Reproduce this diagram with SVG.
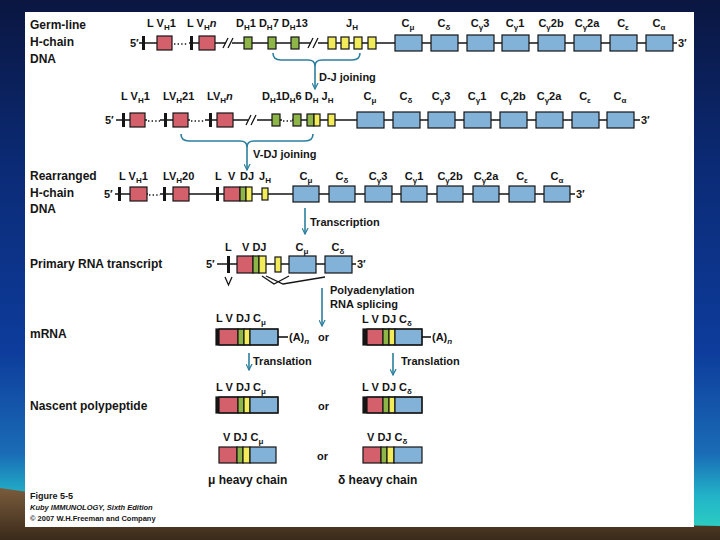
<svg xmlns="http://www.w3.org/2000/svg" width="720" height="540" viewBox="0 0 720 540">
<defs>
<linearGradient id="bg" x1="0" y1="0" x2="0" y2="1">
<stop offset="0" stop-color="#0a1640"/>
<stop offset="0.3" stop-color="#0b2a74"/>
<stop offset="0.65" stop-color="#0d3c9c"/>
<stop offset="0.84" stop-color="#1a6cb6"/>
<stop offset="0.92" stop-color="#22b4c8"/>
<stop offset="1" stop-color="#30d8c0"/>
</linearGradient>
<linearGradient id="br" x1="0" y1="0" x2="0" y2="1">
<stop offset="0" stop-color="#7a5c3c"/>
<stop offset="1" stop-color="#3a2a1a"/>
</linearGradient>
<marker id="ah" viewBox="0 0 8 8" refX="7" refY="4" markerWidth="7" markerHeight="7" orient="auto" markerUnits="userSpaceOnUse">
<path d="M0,0.5 L7,4 L0,7.5" fill="none" stroke="#2b7f9e" stroke-width="1.4"/>
</marker>
<style>
text{font-family:"Liberation Sans",Arial,sans-serif;font-weight:bold;fill:#151515}
.lab{font-size:12px}
.g{font-size:11px}
.s{font-size:8px}
.it{font-style:italic}
.r{fill:#d4606c;stroke:#151515;stroke-width:1.2}
.gr{fill:#8db548;stroke:#151515;stroke-width:1.2}
.y{fill:#f2ec5a;stroke:#151515;stroke-width:1.2}
.b{fill:#82b2d8;stroke:#151515;stroke-width:1.2}
.k{fill:#151515}
.ln{stroke:#151515;stroke-width:1.6;fill:none}
.dot{stroke:#151515;stroke-width:1.4;stroke-dasharray:1.4 2.2;fill:none}
.sl{stroke:#151515;stroke-width:1.3;fill:none}
.ar{stroke:#2b7f9e;stroke-width:1.6;fill:none}
.br{stroke:#2b7f9e;stroke-width:1.6;fill:none}
</style>
</defs>
<rect width="720" height="540" fill="url(#bg)"/>
<path d="M0,488 Q180,515 720,526 V540 H0 Z" fill="url(#br)"/>
<rect x="25" y="12" width="669" height="515" fill="#ffffff"/>

<!-- Row labels -->
<g id="row-labels">
<text class="lab" x="30" y="29">Germ-line</text>
<text class="lab" x="30" y="46">H-chain</text>
<text class="lab" x="30" y="63">DNA</text>
<text class="lab" x="30" y="180">Rearranged</text>
<text class="lab" x="30" y="197">H-chain</text>
<text class="lab" x="30" y="213">DNA</text>
<text class="lab" x="30" y="268">Primary RNA transcript</text>
<text class="lab" x="30" y="338">mRNA</text>
<text class="lab" x="30" y="410">Nascent polypeptide</text>
</g>

<!-- Germ-line DNA -->
<g id="germline">
<path class="ln" d="M139,43 H172 M189,43 H226 M232,43 H311 M318,43 H677"/>
<path class="dot" d="M174,44 H188"/>
<path class="sl" d="M223,48 L228,38 M228,48 L233,38 M308,48 L313,38 M313,48 L318,38"/>
<text class="g" x="130" y="47">5′</text>
<rect class="k" x="142" y="36" width="3" height="14"/>
<rect class="r" x="157" y="36" width="15" height="14"/>
<rect class="k" x="190" y="36" width="3" height="14"/>
<rect class="r" x="199" y="36" width="16" height="14"/>
<rect class="gr" x="244" y="37" width="8" height="12"/>
<rect class="gr" x="268" y="37" width="8" height="12"/>
<rect class="gr" x="291" y="37" width="8" height="12"/>
<rect class="y" x="328" y="37" width="8" height="12"/>
<rect class="y" x="341" y="37" width="8" height="12"/>
<rect class="y" x="354" y="37" width="8" height="12"/>
<rect class="y" x="368" y="37" width="8" height="12"/>
<rect class="b" x="395" y="35" width="27" height="16"/>
<rect class="b" x="431" y="35" width="27" height="16"/>
<rect class="b" x="467" y="35" width="27" height="16"/>
<rect class="b" x="502" y="35" width="27" height="16"/>
<rect class="b" x="538" y="35" width="27" height="16"/>
<rect class="b" x="574" y="35" width="27" height="16"/>
<rect class="b" x="610" y="35" width="27" height="16"/>
<rect class="b" x="646" y="35" width="27" height="16"/>
<text class="g" x="678" y="47">3′</text>
<text class="g" x="147" y="27">L V<tspan class="s" dy="3">H</tspan><tspan dy="-3">1</tspan></text>
<text class="g" x="187" y="27">L V<tspan class="s" dy="3">H</tspan><tspan dy="-3" font-style="italic">n</tspan></text>
<text class="g" x="236" y="27">D<tspan class="s" dy="3">H</tspan><tspan dy="-3">1 D</tspan><tspan class="s" dy="3">H</tspan><tspan dy="-3">7 D</tspan><tspan class="s" dy="3">H</tspan><tspan dy="-3">13</tspan></text>
<text class="g" x="346" y="27">J<tspan class="s" dy="3">H</tspan></text>
<text class="g" x="408" y="27" text-anchor="middle">C<tspan class="s" dy="3">μ</tspan></text>
<text class="g" x="444" y="27" text-anchor="middle">C<tspan class="s" dy="3">δ</tspan></text>
<text class="g" x="480" y="27" text-anchor="middle">C<tspan class="s" dy="3">γ</tspan><tspan dy="-3">3</tspan></text>
<text class="g" x="515" y="27" text-anchor="middle">C<tspan class="s" dy="3">γ</tspan><tspan dy="-3">1</tspan></text>
<text class="g" x="551" y="27" text-anchor="middle">C<tspan class="s" dy="3">γ</tspan><tspan dy="-3">2b</tspan></text>
<text class="g" x="587" y="27" text-anchor="middle">C<tspan class="s" dy="3">γ</tspan><tspan dy="-3">2a</tspan></text>
<text class="g" x="623" y="27" text-anchor="middle">C<tspan class="s" dy="3">ε</tspan></text>
<text class="g" x="659" y="27" text-anchor="middle">C<tspan class="s" dy="3">α</tspan></text>
</g>

<!-- After D-J joining -->
<g id="dj-joined">
<path class="ln" d="M116,120 H147 M160,120 H190 M205,120 H248 M257,120 H282 M292,120 H640"/>
<path class="dot" d="M148,121 H160 M191,121 H205 M283,121 H292"/>
<path class="sl" d="M246,125 L251,115 M251,125 L256,115"/>
<text class="g" x="105" y="124">5′</text>
<rect class="k" x="122" y="113" width="3" height="14"/>
<rect class="r" x="130" y="113" width="15" height="14"/>
<rect class="k" x="164" y="113" width="3" height="14"/>
<rect class="r" x="173" y="113" width="15" height="14"/>
<rect class="k" x="209" y="113" width="3" height="14"/>
<rect class="r" x="217" y="113" width="16" height="14"/>
<rect class="gr" x="272" y="114" width="8" height="12"/>
<rect class="gr" x="293" y="114" width="8" height="12"/>
<rect class="gr" x="307" y="114" width="7" height="12"/>
<rect class="y" x="314" y="114" width="6" height="12"/>
<rect class="y" x="328" y="114" width="7" height="12"/>
<rect class="b" x="357" y="112" width="27" height="16"/>
<rect class="b" x="393" y="112" width="27" height="16"/>
<rect class="b" x="428" y="112" width="27" height="16"/>
<rect class="b" x="464" y="112" width="27" height="16"/>
<rect class="b" x="500" y="112" width="27" height="16"/>
<rect class="b" x="536" y="112" width="27" height="16"/>
<rect class="b" x="572" y="112" width="27" height="16"/>
<rect class="b" x="607" y="112" width="27" height="16"/>
<text class="g" x="641" y="124">3′</text>
<text class="g" x="121" y="100">L V<tspan class="s" dy="3">H</tspan><tspan dy="-3">1</tspan></text>
<text class="g" x="163" y="100">LV<tspan class="s" dy="3">H</tspan><tspan dy="-3">21</tspan></text>
<text class="g" x="207" y="100">LV<tspan class="s" dy="3">H</tspan><tspan dy="-3" font-style="italic">n</tspan></text>
<text class="g" x="262" y="100">D<tspan class="s" dy="3">H</tspan><tspan dy="-3">1D</tspan><tspan class="s" dy="3">H</tspan><tspan dy="-3">6 D</tspan><tspan class="s" dy="3">H</tspan><tspan dy="-3"> J</tspan><tspan class="s" dy="3">H</tspan></text>
<text class="g" x="370" y="100" text-anchor="middle">C<tspan class="s" dy="3">μ</tspan></text>
<text class="g" x="406" y="100" text-anchor="middle">C<tspan class="s" dy="3">δ</tspan></text>
<text class="g" x="441" y="100" text-anchor="middle">C<tspan class="s" dy="3">γ</tspan><tspan dy="-3">3</tspan></text>
<text class="g" x="477" y="100" text-anchor="middle">C<tspan class="s" dy="3">γ</tspan><tspan dy="-3">1</tspan></text>
<text class="g" x="513" y="100" text-anchor="middle">C<tspan class="s" dy="3">γ</tspan><tspan dy="-3">2b</tspan></text>
<text class="g" x="549" y="100" text-anchor="middle">C<tspan class="s" dy="3">γ</tspan><tspan dy="-3">2a</tspan></text>
<text class="g" x="585" y="100" text-anchor="middle">C<tspan class="s" dy="3">ε</tspan></text>
<text class="g" x="620" y="100" text-anchor="middle">C<tspan class="s" dy="3">α</tspan></text>
</g>

<!-- Rearranged DNA -->
<g id="rearranged">
<path class="ln" d="M115,194 H148 M160,194 H575"/>
<path class="dot" d="M149,195 H160"/>
<text class="g" x="104" y="198">5′</text>
<rect class="k" x="118" y="187" width="3" height="14"/>
<rect class="r" x="130" y="187" width="17" height="14"/>
<rect class="k" x="163" y="187" width="3" height="14"/>
<rect class="r" x="173" y="187" width="16" height="14"/>
<rect class="k" x="216" y="187" width="3" height="14"/>
<rect class="r" x="224" y="187" width="16" height="14"/>
<rect class="gr" x="240" y="187" width="6" height="14"/>
<rect class="y" x="246" y="187" width="6" height="14"/>
<rect class="y" x="262" y="188" width="6" height="12"/>
<rect class="b" x="293" y="186" width="26" height="16"/>
<rect class="b" x="329" y="186" width="26" height="16"/>
<rect class="b" x="365" y="186" width="27" height="16"/>
<rect class="b" x="401" y="186" width="26" height="16"/>
<rect class="b" x="437" y="186" width="26" height="16"/>
<rect class="b" x="473" y="186" width="26" height="16"/>
<rect class="b" x="509" y="186" width="26" height="16"/>
<rect class="b" x="544" y="186" width="26" height="16"/>
<text class="g" x="576" y="198">3′</text>
<text class="g" x="119" y="180">L V<tspan class="s" dy="3">H</tspan><tspan dy="-3">1</tspan></text>
<text class="g" x="163" y="180">LV<tspan class="s" dy="3">H</tspan><tspan dy="-3">20</tspan></text>
<text class="g" x="215" y="180">L</text>
<text class="g" x="228" y="180">V</text>
<text class="g" x="240" y="180">DJ</text>
<text class="g" x="259" y="180">J<tspan class="s" dy="3">H</tspan></text>
<text class="g" x="306" y="180" text-anchor="middle">C<tspan class="s" dy="3">μ</tspan></text>
<text class="g" x="342" y="180" text-anchor="middle">C<tspan class="s" dy="3">δ</tspan></text>
<text class="g" x="378" y="180" text-anchor="middle">C<tspan class="s" dy="3">γ</tspan><tspan dy="-3">3</tspan></text>
<text class="g" x="414" y="180" text-anchor="middle">C<tspan class="s" dy="3">γ</tspan><tspan dy="-3">1</tspan></text>
<text class="g" x="450" y="180" text-anchor="middle">C<tspan class="s" dy="3">γ</tspan><tspan dy="-3">2b</tspan></text>
<text class="g" x="486" y="180" text-anchor="middle">C<tspan class="s" dy="3">γ</tspan><tspan dy="-3">2a</tspan></text>
<text class="g" x="522" y="180" text-anchor="middle">C<tspan class="s" dy="3">ε</tspan></text>
<text class="g" x="557" y="180" text-anchor="middle">C<tspan class="s" dy="3">α</tspan></text>
</g>

<!-- Primary RNA transcript -->
<g id="primary-transcript">
<path class="ln" d="M217,264 H356"/>
<text class="g" x="206" y="268">5′</text>
<rect class="k" x="227" y="256" width="3" height="17"/>
<path class="sl" d="M225,277 L228.5,285 L232,277"/>
<rect class="r" x="237" y="256" width="16" height="17"/>
<rect class="gr" x="253" y="256" width="6" height="17"/>
<rect class="y" x="259" y="256" width="7" height="17"/>
<rect class="y" x="275" y="257" width="6" height="15"/>
<rect class="b" x="289" y="256" width="27" height="17"/>
<rect class="b" x="325" y="256" width="27" height="17"/>
<text class="g" x="357" y="268">3′</text>
<path class="sl" d="M266,276 L283,284 L325,277 M262,276 L274,284 L289,276"/>
<text class="g" x="225" y="251">L</text>
<text class="g" x="242" y="251">V DJ</text>
<text class="g" x="302" y="251" text-anchor="middle">C<tspan class="s" dy="3">μ</tspan></text>
<text class="g" x="338" y="251" text-anchor="middle">C<tspan class="s" dy="3">δ</tspan></text>
</g>

<!-- mRNA -->
<g id="mrna-mu">
<rect class="k" x="216" y="329" width="3" height="16"/>
<rect class="r" x="219" y="329" width="19" height="16"/>
<rect class="gr" x="238" y="329" width="6" height="16"/>
<rect class="y" x="244" y="329" width="6" height="16"/>
<rect class="b" x="250" y="329" width="28" height="16"/>
<rect x="216" y="329" width="62" height="16" fill="none" stroke="#151515" stroke-width="1.2"/>
<path class="ln" d="M278,337 H288"/>
<text class="g" x="289" y="341">(A)<tspan class="s it" dy="3">n</tspan></text>
<text class="g" x="216" y="322">L V DJ C<tspan class="s" dy="3">μ</tspan></text>
</g>
<g id="mrna-delta">
<rect class="k" x="363" y="329" width="4" height="16"/>
<rect class="r" x="367" y="329" width="16" height="16"/>
<rect class="gr" x="383" y="329" width="6" height="16"/>
<rect class="y" x="389" y="329" width="6" height="16"/>
<rect class="b" x="395" y="329" width="27" height="16"/>
<rect x="363" y="329" width="59" height="16" fill="none" stroke="#151515" stroke-width="1.2"/>
<path class="ln" d="M422,337 H431"/>
<text class="g" x="432" y="341">(A)<tspan class="s it" dy="3">n</tspan></text>
<text class="g" x="362" y="323">L V DJ  C<tspan class="s" dy="3">δ</tspan></text>
</g>
<text class="g" x="318" y="341">or</text>

<!-- Nascent polypeptides -->
<g id="nascent-mu">
<rect class="k" x="216" y="397" width="3" height="16"/>
<rect class="r" x="219" y="397" width="19" height="16"/>
<rect class="gr" x="238" y="397" width="6" height="16"/>
<rect class="y" x="244" y="397" width="6" height="16"/>
<rect class="b" x="250" y="397" width="28" height="16"/>
<rect x="216" y="397" width="62" height="16" fill="none" stroke="#151515" stroke-width="1.2"/>
<text class="g" x="216" y="391">L V DJ C<tspan class="s" dy="3">μ</tspan></text>
</g>
<g id="nascent-delta">
<rect class="k" x="363" y="397" width="4" height="16"/>
<rect class="r" x="367" y="397" width="16" height="16"/>
<rect class="gr" x="383" y="397" width="6" height="16"/>
<rect class="y" x="389" y="397" width="6" height="16"/>
<rect class="b" x="395" y="397" width="27" height="16"/>
<rect x="363" y="397" width="59" height="16" fill="none" stroke="#151515" stroke-width="1.2"/>
<text class="g" x="362" y="391">L V DJ  C<tspan class="s" dy="3">δ</tspan></text>
</g>
<text class="g" x="318" y="410">or</text>

<!-- Heavy chains -->
<g id="mu-heavy-chain">
<rect class="r" x="219" y="447" width="18" height="16"/>
<rect class="gr" x="237" y="447" width="6" height="16"/>
<rect class="y" x="243" y="447" width="7" height="16"/>
<rect class="b" x="250" y="447" width="26" height="16"/>
<text class="g" x="223" y="441">V DJ C<tspan class="s" dy="3">μ</tspan></text>
<text class="lab" x="208" y="484">μ heavy chain</text>
</g>
<g id="delta-heavy-chain">
<rect class="r" x="363" y="447" width="18" height="16"/>
<rect class="gr" x="381" y="447" width="6" height="16"/>
<rect class="y" x="387" y="447" width="7" height="16"/>
<rect class="b" x="394" y="447" width="28" height="16"/>
<text class="g" x="367" y="441">V DJ  C<tspan class="s" dy="3">δ</tspan></text>
<text class="lab" x="338" y="484">δ heavy chain</text>
</g>
<text class="g" x="317" y="460">or</text>

<!-- Connectors -->
<g id="connectors">
<path class="br" d="M273,53 C273,58 276,60 281,60 L308,60 C312,60 315,62 315,66 C315,62 318,60 322,60 L352,60 C357,60 360,58 360,53"/>
<path class="ar" d="M315,64 V89" marker-end="url(#ah)"/>
<path class="br" d="M181,134 C181,139 184,141 189,141 L240,141 C244,141 247,143 247,147 C247,143 250,141 254,141 L305,141 C310,141 313,139 313,134"/>
<path class="ar" d="M247,145 V170" marker-end="url(#ah)"/>
<path class="ar" d="M305,208 V234" marker-end="url(#ah)"/>
<path class="ar" d="M322,288 V326" marker-end="url(#ah)"/>
<path class="ar" d="M249,353 V370" marker-end="url(#ah)"/>
<path class="ar" d="M393,353 V375" marker-end="url(#ah)"/>
</g>
<g id="connector-labels">
<text class="g" x="319" y="81">D-J joining</text>
<text class="g" x="253" y="158">V-DJ joining</text>
<text class="g" x="310" y="226">Transcription</text>
<text class="g" x="330" y="294">Polyadenylation</text>
<text class="g" x="330" y="308">RNA splicing</text>
<text class="g" x="253" y="365">Translation</text>
<text class="g" x="401" y="365">Translation</text>
</g>

<!-- Caption -->
<g id="caption">
<text x="30" y="499" font-size="9">Figure 5-5</text>
<text x="30" y="510" font-size="7.5" font-style="italic">Kuby IMMUNOLOGY, Sixth Edition</text>
<text x="30" y="521" font-size="7.5" font-weight="normal">© 2007 W.H.Freeman and Company</text>
</g>
</svg>
